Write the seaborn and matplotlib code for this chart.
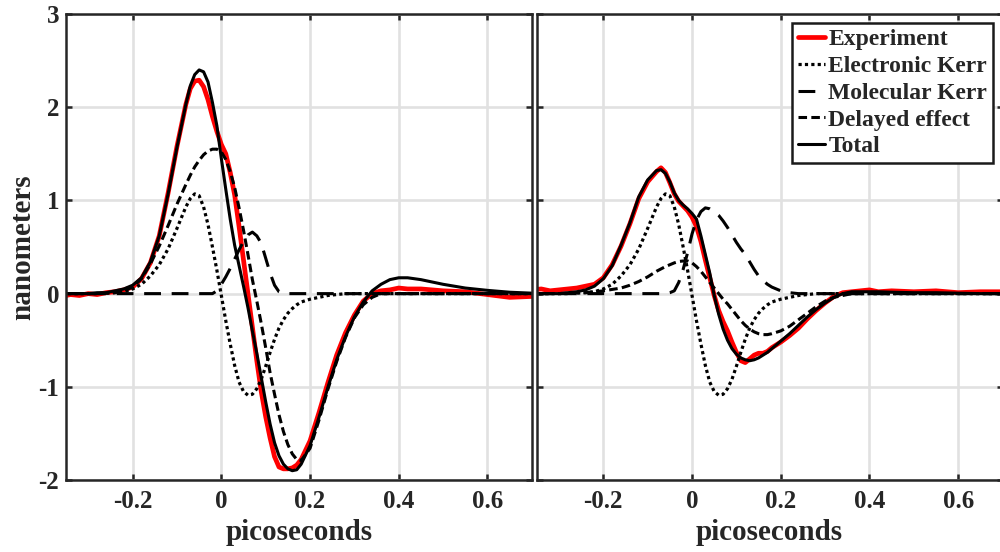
import matplotlib
matplotlib.use("Agg")
import matplotlib.pyplot as plt
import seaborn as sns

# ---------------- data ----------------
t_ps = [-0.36, -0.34, -0.32, -0.30, -0.28, -0.26, -0.24, -0.22, -0.20, -0.18,
        -0.16, -0.14, -0.12, -0.10, -0.08, -0.07, -0.06, -0.05, -0.04, -0.03,
        -0.02, -0.01, 0.00, 0.01, 0.02, 0.03, 0.04, 0.05, 0.06, 0.07,
        0.08, 0.09, 0.10, 0.11, 0.12, 0.13, 0.14, 0.15, 0.16, 0.17,
        0.18, 0.20, 0.22, 0.24, 0.26, 0.28, 0.30, 0.32, 0.34, 0.36,
        0.38, 0.40, 0.42, 0.45, 0.50, 0.55, 0.60, 0.65, 0.70]

electronic_kerr = [0, 0, 0, 0, 0, 0.005, 0.01, 0.02, 0.05, 0.10,
                   0.19, 0.31, 0.48, 0.70, 0.93, 1.02, 1.07, 1.05, 0.93, 0.74,
                   0.50, 0.25, -0.02, -0.29, -0.54, -0.77, -0.95, -1.05, -1.09, -1.08,
                   -1.02, -0.92, -0.78, -0.63, -0.49, -0.37, -0.28, -0.21, -0.16, -0.12,
                   -0.09, -0.06, -0.04, -0.02, -0.01, 0, 0, 0, 0, 0,
                   0, 0, 0, 0, 0, 0, 0, 0, 0]

# left panel
left_experiment = [-0.03, -0.01, -0.02, 0.0, -0.01, 0.01, 0.02, 0.04, 0.07, 0.16,
                   0.33, 0.62, 1.08, 1.58, 2.03, 2.20, 2.28, 2.29, 2.22, 2.08,
                   1.90, 1.74, 1.60, 1.50, 1.30, 1.06, 0.72, 0.36, 0.0, -0.36,
                   -0.72, -1.05, -1.32, -1.55, -1.75, -1.86, -1.88, -1.88, -1.87, -1.84,
                   -1.78, -1.58, -1.28, -0.96, -0.66, -0.42, -0.23, -0.08, 0.0, 0.03,
                   0.04, 0.06, 0.05, 0.05, 0.03, 0.02, -0.01, -0.04, -0.03]
left_molecular = [0, 0, 0, 0, 0, 0, 0, 0, 0, 0,
                  0, 0, 0, 0, 0, 0, 0, 0, 0, 0,
                  0, 0.03, 0.10, 0.18, 0.27, 0.37, 0.47, 0.56, 0.63, 0.66,
                  0.62, 0.54, 0.38, 0.22, 0.09, 0.02, 0, 0, 0, 0,
                  0, 0, 0, 0, 0, 0, 0, 0, 0, 0,
                  0, 0, 0, 0, 0, 0, 0, 0, 0]
left_delayed = [0, 0, 0, 0, 0, 0.005, 0.01, 0.03, 0.07, 0.16,
                0.32, 0.51, 0.73, 0.96, 1.17, 1.27, 1.36, 1.43, 1.49, 1.53,
                1.55, 1.55, 1.52, 1.44, 1.31, 1.14, 0.92, 0.68, 0.42, 0.15,
                -0.08, -0.32, -0.58, -0.85, -1.08, -1.30, -1.48, -1.62, -1.72, -1.78,
                -1.79, -1.66, -1.36, -1.03, -0.73, -0.47, -0.26, -0.12, -0.04, 0.0,
                0, 0, 0, 0, 0, 0, 0, 0, 0]
left_total = [0.0, 0.0, 0.0, 0.0, 0.01, 0.01, 0.03, 0.05, 0.09, 0.17,
              0.34, 0.62, 1.07, 1.57, 2.03, 2.23, 2.35, 2.40, 2.38, 2.27,
              2.05, 1.80, 1.45, 1.12, 0.80, 0.52, 0.30, 0.08, -0.15, -0.40,
              -0.64, -0.90, -1.16, -1.40, -1.60, -1.74, -1.83, -1.88, -1.90, -1.89,
              -1.83, -1.63, -1.33, -1.01, -0.71, -0.46, -0.25, -0.09, 0.03, 0.10,
              0.15, 0.17, 0.17, 0.15, 0.10, 0.06, 0.035, 0.015, 0.005]

# right panel
right_experiment = [0.04, 0.05, 0.03, 0.04, 0.05, 0.06, 0.08, 0.10, 0.17, 0.31,
                    0.51, 0.75, 1.02, 1.20, 1.31, 1.35, 1.30, 1.19, 1.07, 0.99,
                    0.94, 0.89, 0.82, 0.72, 0.56, 0.36, 0.17, -0.02, -0.18, -0.30,
                    -0.40, -0.52, -0.63, -0.72, -0.74, -0.70, -0.66, -0.64, -0.64, -0.62,
                    -0.58, -0.52, -0.45, -0.37, -0.27, -0.18, -0.10, -0.03, 0.01, 0.02,
                    0.03, 0.04, 0.02, 0.03, 0.02, 0.03, 0.01, 0.02, 0.02]
right_molecular = [0, 0, 0, 0, 0, 0, 0, 0, 0, 0,
                   0, 0, 0, 0, 0, 0, 0, 0.01, 0.03, 0.12,
                   0.26, 0.44, 0.64, 0.79, 0.88, 0.92, 0.91, 0.88, 0.84, 0.78,
                   0.71, 0.63, 0.55, 0.48, 0.42, 0.34, 0.26, 0.19, 0.14, 0.10,
                   0.07, 0.03, 0.01, 0, 0, 0, 0, 0, 0, 0,
                   0, 0, 0, 0, 0, 0, 0, 0, 0]
right_delayed = [0, 0, 0, 0, 0.005, 0.01, 0.01, 0.02, 0.03, 0.045,
                 0.06, 0.09, 0.13, 0.18, 0.24, 0.265, 0.29, 0.31, 0.33, 0.345,
                 0.35, 0.35, 0.33, 0.29, 0.24, 0.18, 0.12, 0.06, 0.0, -0.06,
                 -0.11, -0.17, -0.23, -0.29, -0.34, -0.38, -0.41, -0.43, -0.44, -0.44,
                 -0.43, -0.40, -0.35, -0.28, -0.21, -0.14, -0.08, -0.04, -0.02, 0.0,
                 0, 0, 0, 0, 0, 0, 0, 0, 0]
right_total = [0.0, 0.0, 0.0, 0.0, 0.01, 0.02, 0.04, 0.08, 0.16, 0.30,
               0.52, 0.76, 1.04, 1.22, 1.32, 1.33, 1.29, 1.20, 1.08, 1.00,
               0.95, 0.91, 0.86, 0.80, 0.62, 0.42, 0.22, -0.02, -0.22, -0.38,
               -0.50, -0.59, -0.65, -0.69, -0.71, -0.72, -0.71, -0.69, -0.66, -0.63,
               -0.59, -0.51, -0.43, -0.34, -0.25, -0.17, -0.10, -0.04, 0.0, 0.02,
               0.02, 0.02, 0.02, 0.015, 0.01, 0.01, 0.005, 0.0, 0.0]

series_labels = ["Experiment", "Electronic Kerr", "Molecular Kerr", "Delayed effect", "Total"]
x_ticks = [-0.2, 0, 0.2, 0.4, 0.6]
x_tick_labels = ["-0.2", "0", "0.2", "0.4", "0.6"]
y_ticks = [-2, -1, 0, 1, 2, 3]
y_tick_labels = ["-2", "-1", "0", "1", "2", "3"]
x_label = "picoseconds"
y_label = "nanometers"

# ---------------- styling ----------------
sns.set_theme(style="ticks")
FAMILY = ["Liberation Serif", "DejaVu Serif"]
plt.rcParams["font.family"] = FAMILY
plt.rcParams["font.weight"] = "bold"
plt.rcParams["axes.labelweight"] = "bold"
plt.rcParams["axes.unicode_minus"] = False

INK = "#262626"
styles = {
    "Experiment": dict(color="#ff0000", linewidth=3.4, linestyle="-"),
    "Electronic Kerr": dict(color="black", linewidth=2.3, linestyle=(0, (1.0, 1.0))),
    "Molecular Kerr": dict(color="black", linewidth=2.2, linestyle=(0, (5.5, 3.5))),
    "Delayed effect": dict(color="black", linewidth=2.2, linestyle=(0, (2.8, 1.4))),
    "Total": dict(color="black", linewidth=2.2, linestyle="-"),
}

fig = plt.figure(figsize=(10, 5.52), dpi=100)
axL = fig.add_axes([0.0661, 0.1304, 0.4657, 0.8442])
axR = fig.add_axes([0.5368, 0.1304, 0.4657, 0.8442])

panels = [
    (axL, [left_experiment, electronic_kerr, left_molecular, left_delayed, left_total]),
    (axR, [right_experiment, electronic_kerr, right_molecular, right_delayed, right_total]),
]

for ax, series in panels:
    for lab, vals in zip(series_labels, series):
        assert len(vals) == len(t_ps), (lab, len(vals))
        sns.lineplot(x=t_ps, y=vals, ax=ax, label=lab, estimator=None, sort=False,
                     legend=False, **styles[lab])
    ax.set_xlim(-0.35, 0.70)
    ax.set_ylim(-2, 3)
    ax.set_xticks(x_ticks)
    ax.set_xticklabels(x_tick_labels)
    ax.set_yticks(y_ticks)
    ax.set_yticklabels(y_tick_labels)
    ax.grid(True, color="#e1e1e1", linewidth=1.9)
    ax.set_axisbelow(True)
    ax.tick_params(axis="both", direction="in", length=4.5, width=1.8, top=True, right=True,
                   colors=INK, labelsize=18)
    ax.tick_params(axis="x", pad=7)
    ax.tick_params(axis="y", pad=5)
    for sp in ax.spines.values():
        sp.set_visible(True)
        sp.set_linewidth(1.8)
        sp.set_color(INK)
        sp.set_zorder(5)
    ax.set_xlabel(x_label, fontsize=21, fontweight="bold", color=INK)
    ax.xaxis.set_label_coords(0.5, -0.083)
    for lbl in ax.get_xticklabels() + ax.get_yticklabels():
        lbl.set_fontweight("bold")

axL.set_ylabel(y_label, fontsize=21, fontweight="bold", color=INK)
axL.yaxis.set_label_coords(-0.064, 0.5)
axR.set_ylabel("")
axR.tick_params(axis="y", labelleft=False)

handles, labels = axR.get_legend_handles_labels()
hmap = dict(zip(labels, handles))
leg = axR.legend([hmap[l] for l in series_labels], series_labels,
                 loc="upper right", bbox_to_anchor=(0.993, 1 - 23 / 552),
                 bbox_transform=fig.transFigure, borderaxespad=0,
                 frameon=True, fancybox=False, framealpha=1, edgecolor="#1a1a1a",
                 prop=dict(family=FAMILY, weight="bold", size=17),
                 handlelength=1.15, handletextpad=0.15, labelspacing=0.22, borderpad=0.25)
leg.get_frame().set_linewidth(1.8)
leg.set_zorder(10)

fig.savefig("out.png", dpi=100)
